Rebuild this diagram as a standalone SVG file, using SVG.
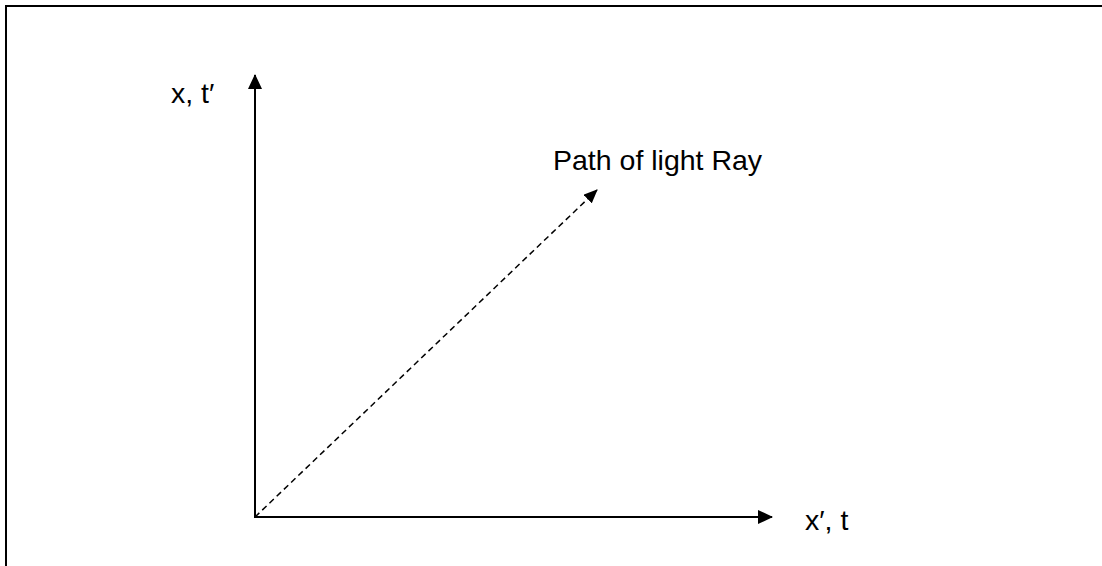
<svg xmlns="http://www.w3.org/2000/svg" width="1102" height="566" viewBox="0 0 1102 566">
<style>
.lbl{font-family:"Liberation Sans",Arial,sans-serif;font-size:28.5px;fill:#000}
.axis{stroke:#000;stroke-width:2;fill:none}
.ray{stroke:#000;stroke-width:1.5;fill:none;stroke-dasharray:6 4}
</style>
<defs>
<marker id="ah" viewBox="0 0 15 14" refX="14" refY="7" markerWidth="15" markerHeight="14" markerUnits="userSpaceOnUse" orient="auto">
<path d="M0,0 L15,7 L0,14 Z" fill="#000"/>
</marker>
<marker id="ah2" viewBox="0 0 14 12" refX="13" refY="6" markerWidth="14" markerHeight="12" markerUnits="userSpaceOnUse" orient="auto">
<path d="M0,0 L14,6 L0,12 Z" fill="#000"/>
</marker>
</defs>
<rect x="6" y="6" width="1200" height="700" fill="none" stroke="#000" stroke-width="2"/>
<g id="connectors">
<line class="axis" x1="255" y1="517" x2="255" y2="75" marker-end="url(#ah)"/>
<line class="axis" x1="254" y1="517" x2="772" y2="517" marker-end="url(#ah)"/>
<line class="ray" x1="255" y1="517" x2="597" y2="190" marker-end="url(#ah2)"/>
</g>
<g id="label-y"><text class="lbl" x="171" y="103">x, t′</text></g>
<g id="label-x"><text class="lbl" x="805" y="530">x′, t</text></g>
<g id="label-ray"><text class="lbl" x="553" y="170">Path of light Ray</text></g>
</svg>
